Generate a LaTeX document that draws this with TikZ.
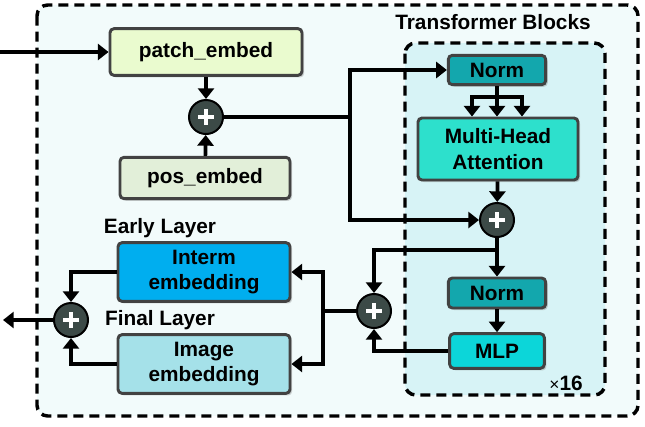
\documentclass[tikz,border=0pt]{standalone}
\usepackage{fontspec}
\setmainfont{Liberation Sans}
\usetikzlibrary{arrows.meta,shadows,calc}
\definecolor{outerbg}{HTML}{F2FBFB}
\definecolor{innerbg}{HTML}{D7F3F6}
\definecolor{edge}{HTML}{424242}
\definecolor{patchc}{HTML}{EAFBCF}
\definecolor{posc}{HTML}{E2EFD9}
\definecolor{normc}{HTML}{13A7AD}
\definecolor{mhac}{HTML}{2DE0CC}
\definecolor{mlpc}{HTML}{0CD6D9}
\definecolor{intermc}{HTML}{00AEEF}
\definecolor{imagec}{HTML}{A5E1E9}
\definecolor{sumc}{HTML}{3C4A47}

\begin{document}
\begin{tikzpicture}[x=.75pt,y=-.75pt,font=\bfseries\fontsize{15.6}{19}\selectfont,
    block/.style={draw=edge,line width=2.2pt,rounded corners=3pt,align=center,inner sep=0pt,
      drop shadow={opacity=.35,shadow xshift=1.6pt,shadow yshift=-1.6pt}},
    sum/.style={circle,draw=black,line width=1.5pt,fill=sumc,minimum size=25.5pt,inner sep=0pt,
      path picture={
        \draw[white,line width=2.8pt] ([xshift=-6pt]path picture bounding box.center) -- ([xshift=6pt]path picture bounding box.center);
        \draw[white,line width=2.8pt] ([yshift=-6pt]path picture bounding box.center) -- ([yshift=6pt]path picture bounding box.center);}},
    wire/.style={line width=2.8pt},
    arr/.style={wire,-{Triangle[length=8pt,width=12pt]}},
    frame/.style={line width=2.6pt,dash pattern=on 7.5pt off 4.5pt,rounded corners=8pt}]
  \useasboundingbox (0,0) rectangle (645,426);

  % frames
  \draw[frame,fill=outerbg] (37,5) rectangle (638,416);
  \draw[frame,fill=innerbg] (405,43) rectangle (605,395);
  \node (title) at (493,22) {Transformer Blocks};
  \node (times) at (566,383) {{\mdseries\fontsize{13}{15}\selectfont ×}16};

  % embedding
  \node[block,fill=patchc,minimum width=144pt,minimum height=35pt] (patch) at (206,52) {patch\_embed};
  \node[sum] (sumA) at (206,117) {};
  \node[block,fill=posc,minimum width=127.5pt,minimum height=31pt] (pos) at (205,178) {pos\_embed};

  % transformer block
  \node[block,fill=normc,minimum width=73pt,minimum height=22pt] (normA) at (497,70) {Norm};
  \node[block,fill=mhac,minimum width=120pt,minimum height=46.5pt] (mha) at (498,149) {Multi-Head\\Attention};
  \node[sum] (sumB) at (497,220) {};
  \node[block,fill=normc,minimum width=73pt,minimum height=22.5pt] (normB) at (497,293) {Norm};
  \node[block,fill=mlpc,minimum width=71pt,minimum height=26pt] (mlp) at (497,351) {MLP};

  % outputs
  \node[sum] (sumC) at (374,311) {};
  \node (early) at (160,228) {Early Layer};
  \node[block,fill=intermc,minimum width=129pt,minimum height=44pt] (interm) at (204,272) {Interm\\embedding};
  \node (final) at (160,320) {Final Layer};
  \node[block,fill=imagec,minimum width=129pt,minimum height=44pt] (image) at (204,364) {Image\\embedding};
  \node[sum] (sumD) at (71,320) {};

  \coordinate (in) at (0,52);
  \coordinate (out) at (3,320);
  \coordinate (split) at (350,117);
  \coordinate (fork) at (497,97);
  \coordinate (tap) at (497,250);
  \coordinate (spread) at (323,311);

  % connectors
  \draw[arr] (in) -- (patch);
  \draw[arr] (patch) -- (sumA);
  \draw[arr] (pos) -- (sumA);
  \draw[wire] (sumA) -- (split);
  \draw[arr] (split) |- (normA);
  \draw[arr] (split) |- (sumB);
  \draw[wire] (normA) -- (fork);
  \draw[wire,line cap=rect] ($(fork)+(-25,0)$) -- ($(fork)+(25,0)$);
  \foreach \dx in {-25,0,25}
    \draw[arr] ($(fork)+(\dx,0)$) -- ($(mha.north)+(\dx-1,0)$);
  \draw[arr] (mha) -- (sumB);
  \draw[arr] (sumB) -- (normB);
  \draw[arr] (tap) -| (sumC);
  \draw[arr] (normB) -- (mlp);
  \draw[arr] (mlp) -| (sumC);
  \draw[wire] (sumC) -- (spread);
  \draw[arr] (spread) |- (interm);
  \draw[arr] (spread) |- (image);
  \draw[arr] (interm) -| (sumD);
  \draw[arr] (image) -| (sumD);
  \draw[arr] (sumD) -- (out);
\end{tikzpicture}
\end{document}
